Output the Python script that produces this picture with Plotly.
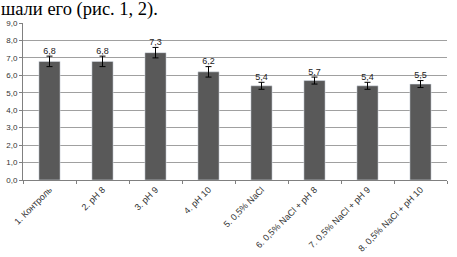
import plotly.graph_objects as go

categories = ["1. Контроль", "2. pH 8", "3. pH 9", "4. pH 10", "5. 0,5% NaCl",
              "6. 0,5% NaCl + pH 8", "7. 0,5% NaCl + pH 9", "8. 0,5% NaCl + pH 10"]
values = [6.8, 6.8, 7.3, 6.2, 5.4, 5.7, 5.4, 5.5]
errors = [0.3, 0.3, 0.3, 0.3, 0.2, 0.2, 0.2, 0.2]
value_labels = ["6,8", "6,8", "7,3", "6,2", "5,4", "5,7", "5,4", "5,5"]
y_ticks = [0, 1, 2, 3, 4, 5, 6, 7, 8, 9]

fig = go.Figure()
fig.add_trace(go.Bar(
    x=categories, y=values, marker_color="#595959", width=0.4,
    error_y=dict(type="data", array=errors, color="#000000", thickness=1, width=3),
))
fig.add_trace(go.Scatter(
    x=categories, y=[v + e for v, e in zip(values, errors)], mode="text",
    text=value_labels, textposition="top center",
    textfont=dict(size=9, color="#222222", family="Liberation Sans"),
))

fig.add_annotation(
    text="шали его (рис. 1, 2).", xref="paper", yref="paper",
    x=-24/424, y=1 + 26/157, xanchor="left", yanchor="top", showarrow=False,
    font=dict(family="Liberation Serif", size=18.5, color="#000000"),
)

fig.update_layout(
    width=457, height=257, margin=dict(l=23, r=10, t=23, b=77),
    plot_bgcolor="white", paper_bgcolor="white", showlegend=False,
    separators=", ", bargap=0.6,
    font=dict(family="Liberation Sans", size=8, color="#333333"),
)
fig.update_yaxes(range=[0, 9], tickvals=y_ticks, tickformat=".1f", automargin=False,
                 showgrid=True, gridcolor="#a0a0a0", gridwidth=1,
                 showline=True, linecolor="#808080", ticks="outside", ticklen=3,
                 tickcolor="#808080", zeroline=False,
                 tickfont=dict(size=8, color="#333333"))
fig.update_xaxes(tickangle=-45, showline=True, linecolor="#808080", automargin=False,
                 ticks="outside", tickson="boundaries", ticklen=3, tickcolor="#808080",
                 tickfont=dict(size=9, color="#333333"))

fig.write_html("out.html", config={"displayModeBar": False},
               post_script="document.body.style.margin='0';")
